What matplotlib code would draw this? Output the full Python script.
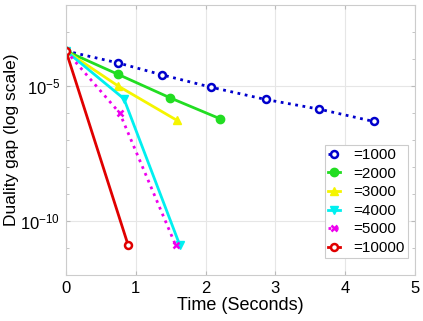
import matplotlib
matplotlib.use("Agg")
import matplotlib.pyplot as plt
from matplotlib.ticker import FixedLocator, NullFormatter

plt.rcParams['font.family'] = ['Liberation Sans', 'DejaVu Sans']

labels = ["=1000", "=2000", "=3000", "=4000", "=5000", "=10000"]
t_1000 = [0, 0.75, 1.38, 2.08, 2.86, 3.63, 4.41]
g_1000 = [2e-4, 7.2e-5, 2.6e-5, 9.1e-6, 3.2e-6, 1.4e-6, 4.9e-7]
t_2000 = [0, 0.75, 1.49, 2.20]
g_2000 = [2e-4, 2.7e-5, 3.7e-6, 6.3e-7]
t_3000 = [0, 0.75, 1.59]
g_3000 = [2e-4, 1.0e-5, 5.4e-7]
t_4000 = [0, 0.83, 1.63]
g_4000 = [2e-4, 3.4e-6, 1.3e-11]
t_5000 = [0, 0.77, 1.57]
g_5000 = [2e-4, 1.0e-6, 1.3e-11]
t_10000 = [0, 0.89]
g_10000 = [2e-4, 1.3e-11]

fig = plt.figure(figsize=(4.23, 3.21), dpi=100)
ax = fig.add_axes([0.156, 0.143, 0.825, 0.841])

lw = 2
ax.plot(t_1000, g_1000, ':', color='#0000CC', lw=lw, marker='o', ms=5, mfc='white', mec='#0000CC', mew=1.8, label=labels[0])
ax.plot(t_2000, g_2000, '-', color='#22DD22', lw=lw, marker='o', ms=6, mfc='#22DD22', mec='#22DD22', label=labels[1])
ax.plot(t_3000, g_3000, '-', color='#F5F500', lw=lw, marker='^', ms=6, mfc='#F5F500', mec='#F5F500', label=labels[2])
ax.plot(t_4000, g_4000, '-', color='#00F0F0', lw=lw, marker='v', ms=6, mfc='#00F0F0', mec='#00F0F0', label=labels[3])
ax.plot(t_5000, g_5000, ':', color='#EE00EE', lw=lw, marker='x', ms=5, mew=1.8, label=labels[4])
ax.plot(t_10000, g_10000, '-', color='#E00000', lw=lw, marker='o', ms=5, mfc='white', mec='#E00000', mew=1.8, label=labels[5])

ax.set_yscale('log')
ax.set_xlim(0, 5)
ax.set_ylim(1e-12, 1e-2)
ax.set_xticks([0, 1, 2, 3, 4, 5])
ax.yaxis.set_major_locator(FixedLocator([1e-10, 1e-5]))
ax.yaxis.set_minor_locator(FixedLocator([10.0**k for k in range(-12, -1)]))
ax.yaxis.set_minor_formatter(NullFormatter())
ax.grid(True, which='major', color='#E6E6E6', lw=0.8)
ax.set_axisbelow(True)
ax.tick_params(which='both', direction='in', right=True, top=True, colors='#BBBBBB', labelcolor='black', labelsize=12)
ax.tick_params(which='major', length=3, pad=4)
ax.tick_params(which='minor', length=2)
for s in ax.spines.values():
    s.set_color('#CCCCCC')
    s.set_linewidth(0.8)

ax.set_xlabel('Time (Seconds)', fontsize=13, labelpad=1)
ax.set_ylabel('Duality gap (log scale)', fontsize=12.5, labelpad=1)

leg = ax.legend(loc='lower right', bbox_to_anchor=(0.98, 0.063), fontsize=11, handlelength=0.8,
                handletextpad=0.9, labelspacing=0.3, borderpad=0.2, borderaxespad=0.0,
                fancybox=False, framealpha=1, edgecolor='#CCCCCC')
leg.get_frame().set_linewidth(0.8)

fig.savefig('out.png', dpi=100)
